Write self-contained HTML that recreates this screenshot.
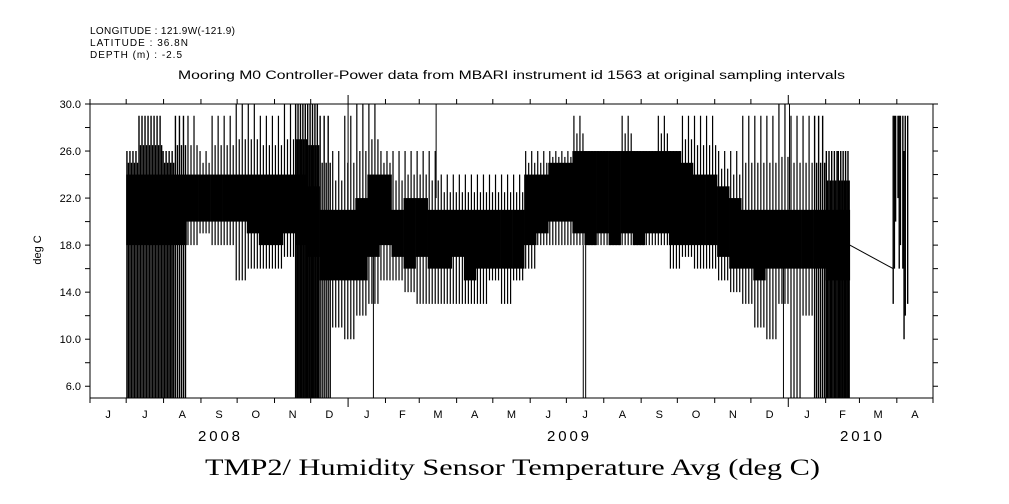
<!DOCTYPE html>
<html><head><meta charset="utf-8"><style>
body{margin:0;background:#fff;width:1009px;height:504px;overflow:hidden}
svg{display:block}
text{font-family:"Liberation Sans",sans-serif;fill:#000}
</style></head><body>
<svg id="chart" width="1009" height="504">
<text x="90" y="34" font-size="10" textLength="145">LONGITUDE : 121.9W(-121.9)</text>
<text x="90" y="46" font-size="10" textLength="98">LATITUDE : 36.8N</text>
<text x="90" y="58" font-size="10" textLength="92">DEPTH (m) : -2.5</text>
<text x="178" y="79" font-size="11.5" textLength="667" lengthAdjust="spacingAndGlyphs">Mooring M0 Controller-Power data from MBARI instrument id 1563 at original sampling intervals</text>
<text transform="translate(41,250) rotate(-90)" font-size="11" text-anchor="middle">deg C</text>
<text x="205" y="475" font-size="23" textLength="615" lengthAdjust="spacingAndGlyphs" style="font-family:'Liberation Serif',serif">TMP2/ Humidity Sensor Temperature Avg (deg C)</text>
<g id="marks"></g>
<g id="axes"></g>
</svg>
<script>
// data: 10-day bins starting day 30 (days since 2008-06-01)
const binLo   =[5,5,5,5,5,18,19,18,18,15,16,16,16,17,5,5,5,11,10,12,13,15,15,14,13,13,13,13,13,13,15,13,15,16,18,18,18,18,18,18,18,18,18,18,18,16,17,16,16,15,14,13,11,10,13,5,12,5,5,5];
const binCoreLo=[18,18,18,18,18,20,20,20,20,20,19,18,18,19,18,17,15,15,15,15,17,18,17,16,17,16,16,17,15,16,16,16,16,18,19,20,20,19,18,19,18,19,18,19,19,18,18,18,18,17,16,16,15,16,16,16,16,16,15,15];
const binCoreHi=[24,24,24,24,24,24,24,24,24,24,24,24,24,24,24,23,21,21,21,22,24,24,21,22,22,21,21,21,21,21,21,21,21,24,24,25,25,26,26,26,26,26,26,26,26,26,25,24,24,23,22,21,21,21,21,21,21,21,21,21];
const binHi   =[26,29,29,26,29,29,26,29,29,30,30,29,29,30,30,30,29,26,29,30,30,26,26,26,26,26,24,24,24,24,24,24,24,26,26,26,26,29,26,26,26,29,26,26,29,26,29,29,29,26,26,29,29,29,30,29,29,29,26,26];
const binLines=[8,8,8,8,6,4,4,4,4,4,4,4,4,4,10,10,6,4,4,4,4,4,4,4,4,4,4,4,4,4,4,4,4,4,4,4,4,4,4,4,4,4,4,4,4,4,4,4,4,4,4,4,4,4,4,4,4,6,9,10];
const spikeDays=[235,409,411,575,287,214,580];
const spikeLo  =[5,5,5,5,22,20,21];
const spikeHi  =[24,18,18,18,30,30,30];
const gapDays=[630,666];
const gapVals=[18,16];
const tailDays=[666,667,668,670,671,672,674,675,676,678];
const tailLo  =[13,16,20,22,16,18,16,10,12,13];
const tailHi  =[29,29,29,29,29,29,29,26,29,29];
const yTicks=[6,10,14,18,22,26,30];
const monthLabels=["J","J","A","S","O","N","D","J","F","M","A","M","J","J","A","S","O","N","D","J","F","M","A"];
const monthLens=[30,31,31,30,31,30,31,31,28,31,30,31,30,31,31,30,31,30,31,31,28,31,30];
const years=["2008","2009","2010"];

const L=90,R=933,T=104,B=398,Y0=5,Y1=30,TOTAL=699,BIN0=30,BINW=10;
const xs=d=>L+d*(R-L)/TOTAL;
const ys=v=>B-(v-Y0)*(B-T)/(Y1-Y0);
const NS="http://www.w3.org/2000/svg";
const marks=document.getElementById('marks'),axes=document.getElementById('axes');
function mk(tag,attrs,parent){const e=document.createElementNS(NS,tag);for(const k in attrs)e.setAttribute(k,attrs[k]);parent.appendChild(e);return e;}

binLo.forEach((lo,i)=>{
  const d0=BIN0+i*BINW,x0=xs(d0),x1=xs(d0+BINW);
  const r=mk('rect',{x:x0,y:ys(binCoreHi[i]),width:x1-x0+0.3,height:ys(binCoreLo[i])-ys(binCoreHi[i]),fill:'#000'},marks);
  
  
  const n=binLines[i];
  for(let k=0;k<n;k++){
    const fx=x0+(k+0.5)*(x1-x0)/n;
    const up=k%2===0;
    const top=up?binHi[i]:binCoreHi[i]+(binHi[i]-binCoreHi[i])/2;
    const ln=mk('line',{x1:fx,x2:fx,y1:ys(top),y2:ys(lo),stroke:'#000','stroke-width':n>5?1.4:1.2},marks);
    
    
  }
});
spikeDays.forEach((d,i)=>{
  const ln=mk('line',{x1:xs(d),x2:xs(d),y1:ys(spikeHi[i]),y2:ys(spikeLo[i]),stroke:'#000','stroke-width':1},marks);
  
  
});
const g=mk('line',{x1:xs(gapDays[0]),y1:ys(gapVals[0]),x2:xs(gapDays[1]),y2:ys(gapVals[1]),stroke:'#000','stroke-width':1},marks);


tailDays.forEach((d,i)=>{
  const ln=mk('line',{x1:xs(d),x2:xs(d),y1:ys(tailHi[i]),y2:ys(tailLo[i]),stroke:'#000','stroke-width':1.4},marks);
  
  
});

const fr=mk('rect',{x:L,y:T,width:R-L,height:B-T,fill:'none',stroke:'#000','stroke-width':1},axes);


for(let v=6;v<=30;v+=2){
  mk('line',{x1:L-5,x2:L,y1:ys(v),y2:ys(v),stroke:'#000'},axes);
  mk('line',{x1:R,x2:R+5,y1:ys(v),y2:ys(v),stroke:'#000'},axes);
}
yTicks.forEach(v=>{
  const t=mk('text',{x:L-9,y:ys(v)+4,'font-size':11,'text-anchor':'end'},axes);
  t.textContent=v.toFixed(1);
  
  
});
let d=0;
monthLens.forEach((len,i)=>{
  const yr=(i===7||i===19);
  const h=yr?9:5;
  mk('line',{x1:xs(d),x2:xs(d),y1:B,y2:B+h,stroke:'#000'},axes);
  mk('line',{x1:xs(d),x2:xs(d),y1:T-h,y2:T,stroke:'#000'},axes);
  const t=mk('text',{x:xs(d+len/2),y:418,'font-size':11,'text-anchor':'middle'},axes);
  t.textContent=monthLabels[i];
  
  
  d+=len;
});
mk('line',{x1:R,x2:R,y1:B,y2:B+5,stroke:'#000'},axes);
const yearX=[198,547,840];
years.forEach((y,i)=>{
  const t=mk('text',{x:yearX[i],y:441,'font-size':15,textLength:42},axes);
  t.textContent=y;
  
  
});
</script>
</body></html>
